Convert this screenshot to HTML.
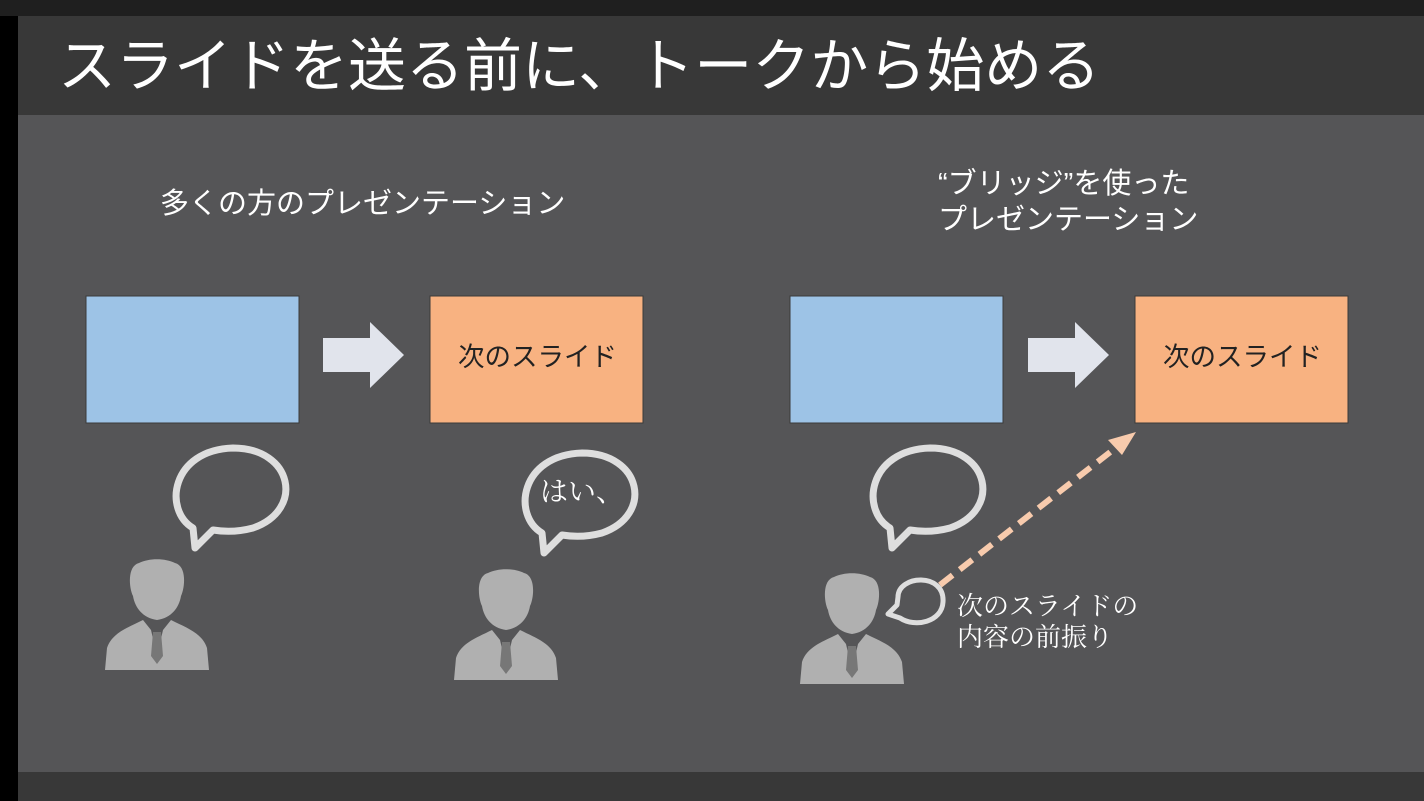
<!DOCTYPE html>
<html><head><meta charset="utf-8"><style>
html,body{margin:0;padding:0}
body{width:1424px;height:801px;background:#555557;position:relative;overflow:hidden;font-family:"Liberation Sans","Noto Sans CJK JP",sans-serif}
.t{position:absolute;color:#fff;white-space:nowrap}
</style></head><body>
<svg width="1424" height="801" style="position:absolute;left:0;top:0">
<rect x="0" y="0" width="1424" height="16" fill="#1f1f1f"/>
<rect x="0" y="16" width="18" height="785" fill="#000"/>
<rect x="18" y="16" width="1406" height="99" fill="#383838"/>
<rect x="18" y="772" width="1406" height="29" fill="#383838"/>
<g stroke="#3a3a3a" stroke-width="1">
<rect x="86" y="296" width="213" height="127" fill="#9dc3e6"/>
<rect x="430" y="296" width="213" height="127" fill="#f8b281"/>
<rect x="790" y="296" width="213" height="127" fill="#9dc3e6"/>
<rect x="1135" y="296" width="213" height="127" fill="#f8b281"/>
</g>
<polygon points="323,338 370,338 370,322 404,355 370,388 370,372 323,372" fill="#e1e4ec"/>
<polygon points="1028,338 1075,338 1075,322 1109,355 1075,388 1075,372 1028,372" fill="#e1e4ec"/>
<line x1="940" y1="585" x2="1118" y2="446" stroke="#f8cbad" stroke-width="6" stroke-dasharray="16,9"/>
<polygon points="1136,432 1108,440 1122,455" fill="#f8cbad"/>
<defs>
<g id="p">
<path d="M-18,-45 C-30,-42 -28,-20 -24,-12 C-22,0 -14,10 0,12 C14,10 22,0 24,-12 C28,-20 30,-42 18,-45 C8,-50 -8,-50 -18,-45Z" fill="#b0b0b0"/>
<path d="M-14,12 C-30,20 -45,25 -50,40 L-52,62 L52,62 L50,40 C45,25 30,20 14,12 L6,22 L0,48 L-6,22Z" fill="#b0b0b0"/>
<path d="M-4,24 L4,24 L6,48 L0,56 L-6,48Z" fill="#777"/>
</g>
<g id="b">
<path d="M-40,38 C-70,20 -62,-40 0,-42 C60,-42 72,20 20,38 C5,42 -8,42 -20,40 L-38,58 Z" fill="none" stroke="#dedede" stroke-width="7" stroke-linejoin="round"/>
</g>
</defs>
<use href="#p" x="157" y="608"/>
<use href="#p" x="506" y="618"/>
<use href="#p" x="852" y="622"/>
<use href="#b" x="233" y="490"/>
<use href="#b" x="582" y="495"/>
<use href="#b" x="930" y="490"/>
<path d="M898,597 C898,575 945,572 943,602 C942,622 915,628 900,618 L888,614 L897,605 Z" fill="none" stroke="#dedede" stroke-width="5" stroke-linejoin="round"/>
</svg>
<div class="t" style="left:58px;top:34px;font-size:58px;line-height:66px">スライドを送る前に、トークから始める</div>
<div class="t" style="left:160px;top:186px;font-size:29px;line-height:36px">多くの方のプレゼンテーション</div>
<div class="t" style="left:938px;top:166px;font-size:29px;line-height:36px">“ブリッジ”を使った<br>プレゼンテーション</div>
<div class="t" style="left:458px;top:341px;font-size:26.5px;line-height:32px;color:#222">次のスライド</div>
<div class="t" style="left:1163px;top:341px;font-size:26.5px;line-height:32px;color:#222">次のスライド</div>
<div class="t" style="left:540px;top:473px;font-size:28px;line-height:34px;font-family:'Noto Serif CJK SC',serif">はい、</div>
<div class="t" style="left:957px;top:589px;font-size:26px;line-height:31px;font-family:'Noto Serif CJK SC',serif">次のスライドの<br>内容の前振り</div>
</body></html>
